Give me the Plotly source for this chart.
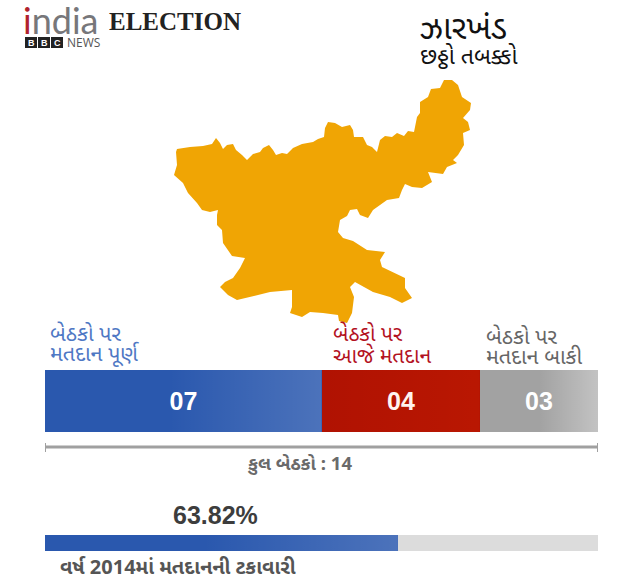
import plotly.graph_objects as go

# seats by phase status (Jharkhand, 14 seats in total)
seat_labels = ["07", "04", "03"]
seat_values = [7, 4, 3]
seat_colors = ["#2a58ae", "#b01202", "#a2a2a2"]
total_seats = 14

# 2014 turnout
turnout = 63.82
turnout_rest = 100 - turnout

# state outline
map_x = [177, 190, 203, 212, 216, 220, 223, 227, 233, 236, 242, 247, 253, 260, 263, 269, 273, 276, 282, 287,
         293, 302, 313, 318, 324, 325, 328, 335, 342, 350, 353, 354, 363, 367, 372, 377, 380, 385, 392, 397,
         404, 408, 414, 417, 420, 420, 428, 431, 440, 444, 452, 458, 462, 471, 470, 463, 468, 470, 463, 464,
         458, 453, 457, 447, 443, 435, 428, 432, 422, 412, 405, 402, 399, 387, 373, 368, 360, 357, 350, 347,
         340, 338, 343, 353, 367, 385, 380, 382, 393, 405, 405, 412, 402, 390, 373, 355, 350, 354, 352, 347,
         339, 338, 323, 310, 302, 290, 292, 292, 270, 248, 237, 228, 220, 225, 233, 240, 245, 232, 223, 222,
         217, 217, 218, 210, 202, 197, 188, 183, 174, 177, 176]
map_y = [149, 147, 146, 144, 138, 143, 149, 145, 144, 150, 155, 160, 154, 152, 148, 145, 150, 155, 153, 154,
         148, 144, 142, 139, 137, 128, 122, 123, 127, 125, 130, 137, 137, 145, 147, 152, 140, 136, 137, 133,
         136, 131, 132, 117, 113, 102, 97, 89, 88, 80, 80, 85, 97, 103, 110, 118, 122, 130, 133, 145,
         155, 160, 163, 167, 174, 173, 172, 182, 188, 187, 184, 190, 198, 200, 210, 218, 215, 209, 210, 216,
         220, 232, 238, 241, 250, 252, 260, 267, 272, 278, 288, 298, 303, 297, 292, 282, 287, 297, 313, 323,
         321, 315, 313, 312, 317, 313, 307, 290, 292, 297, 300, 295, 287, 282, 278, 268, 258, 256, 243, 230,
         225, 215, 210, 212, 210, 203, 193, 183, 175, 165, 152]

GUJ = "Noto Sans Gujarati, Noto Sans, Lato, sans-serif"
W, H = 640, 582


def label(fig, text, x, y, size, color, anchor="left", family=GUJ):
    fig.add_annotation(text=text, xref="paper", yref="paper", x=x / W, y=1 - y / H, showarrow=False,
                       xanchor=anchor, yanchor="middle", font=dict(size=size, color=color, family=family))


def shine(fig, x0, x1, stops, xa, ya):
    # lighter right side of a bar, the bar itself stays underneath
    fig.add_trace(go.Scatter(x=[x0, x1, x1, x0, x0], y=[-0.5, -0.5, 0.5, 0.5, -0.5], xaxis=xa, yaxis=ya,
                             mode="lines", line=dict(width=0), fill="toself",
                             fillgradient=dict(type="horizontal", colorscale=stops),
                             hoverinfo="skip", showlegend=False))


fig = go.Figure()

fig.add_trace(go.Scatter(x=map_x, y=map_y, xaxis="x2", yaxis="y2", mode="lines", line=dict(width=0),
                         fill="toself", fillcolor="#f0a504", hoverinfo="skip", showlegend=False))

for name, val, col in zip(seat_labels, seat_values, seat_colors):
    fig.add_trace(go.Bar(x=[val], y=[0], orientation="h", marker=dict(color=col, line=dict(width=0)),
                         text=["<b>" + name + "</b>"], textposition="inside", insidetextanchor="middle", textangle=0,
                         textfont=dict(family="Liberation Sans", size=25, color="white"),
                         width=1, hoverinfo="skip", showlegend=False))

fig.add_trace(go.Bar(x=[turnout], y=[0], orientation="h", xaxis="x3", yaxis="y3", width=1,
                     marker=dict(color="#2a58ae", line=dict(width=0)), hoverinfo="skip", showlegend=False))
fig.add_trace(go.Bar(x=[turnout_rest], y=[0], orientation="h", xaxis="x3", yaxis="y3", width=1,
                     marker=dict(color="#dcdcdc", line=dict(width=0)), hoverinfo="skip", showlegend=False))

blue_stops = [[0, "rgba(255,255,255,0)"], [0.45, "rgba(255,255,255,0)"], [1, "rgba(255,255,255,0.16)"]]
grey_stops = [[0, "rgba(255,255,255,0)"], [0.5, "rgba(255,255,255,0)"], [1, "rgba(255,255,255,0.35)"]]
red_stops = [[0, "rgba(255,60,0,0)"], [1, "rgba(255,60,0,0.12)"]]
shine(fig, 0, seat_values[0], blue_stops, "x", "y")
shine(fig, seat_values[0], sum(seat_values[:2]), red_stops, "x", "y")
shine(fig, sum(seat_values[:2]), total_seats, grey_stops, "x", "y")
shine(fig, 0, turnout, blue_stops, "x3", "y3")

# logo
label(fig, "<span style='color:#b0222c'>i</span>ndia", 21, 20, 36, "#77777a", family="Lato")
label(fig, "<b>ELECTION</b>", 107, 22, 25, "#222222", family="Liberation Serif")
for i, ch in enumerate("BBC"):
    fig.add_shape(type="rect", xref="paper", yref="paper", x0=(25 + 13 * i) / W, x1=(37 + 13 * i) / W,
                  y0=1 - 48 / H, y1=1 - 37 / H, fillcolor="#222222", line=dict(width=0))
    label(fig, "<b>" + ch + "</b>", 31 + 13 * i, 43, 9, "white", anchor="center", family="Liberation Sans")
label(fig, "NEWS", 65, 43, 12, "#555555", anchor="left", family="Open Sans")

label(fig, "ઝારખંડ", 418, 30, 33, "#111111")
label(fig, "છઠ્ઠો તબક્કો", 418, 58, 23, "#111111")

label(fig, "બેઠકો પર", 48, 335, 21.5, "#4f78c4")
label(fig, "મતદાન પૂર્ણ", 48, 355, 21.5, "#4f78c4")
label(fig, "બેઠકો પર", 331, 336, 21, "#b3121f")
label(fig, "આજે મતદાન", 331, 357, 21, "#b3121f")
label(fig, "બેઠકો પર", 484, 338, 21.5, "#666666")
label(fig, "મતદાન બાકી", 484, 358, 21.5, "#666666")

# total bracket
fig.add_shape(type="line", xref="x", yref="paper", x0=0, x1=total_seats, y0=1 - 447 / H, y1=1 - 447 / H,
              line=dict(color="#a0a0a0", width=3))
for s in (0, total_seats):
    fig.add_shape(type="line", xref="x", yref="paper", x0=s, x1=s, y0=1 - 443 / H, y1=1 - 452 / H,
                  line=dict(color="#a0a0a0", width=2))
label(fig, "<b>કુલ બેઠકો : %d</b>" % total_seats, 299, 465, 18.5, "#6a6a6a", anchor="center")

label(fig, "<b>%.2f%%</b>" % turnout, 215, 515, 25, "#3d3d3d", anchor="center", family="Liberation Sans")
label(fig, "<b>વર્ષ 2014માં મતદાનની ટકાવારી</b>", 58, 569, 20, "#555555")

hidden = dict(visible=False, fixedrange=True)
fig.update_layout(
    width=W, height=H, margin=dict(l=0, r=0, t=0, b=0), paper_bgcolor="white", plot_bgcolor="rgba(0,0,0,0)",
    barmode="stack", bargap=0, showlegend=False,
    xaxis=dict(hidden, domain=[45 / W, 598 / W], range=[0, total_seats]),
    yaxis=dict(hidden, domain=[1 - 432 / H, 1 - 370 / H], range=[-0.5, 0.5]),
    xaxis2=dict(hidden, domain=[0, 1], range=[0, W]),
    yaxis2=dict(hidden, domain=[0, 1], range=[H, 0]),
    xaxis3=dict(hidden, domain=[45 / W, 598 / W], range=[0, 100]),
    yaxis3=dict(hidden, domain=[1 - 551 / H, 1 - 535 / H], range=[-0.5, 0.5]),
)

# page margin would push the chart 8px off
fig.write_html("out.html", config={"displayModeBar": False}, post_script="document.body.style.margin='0';")
